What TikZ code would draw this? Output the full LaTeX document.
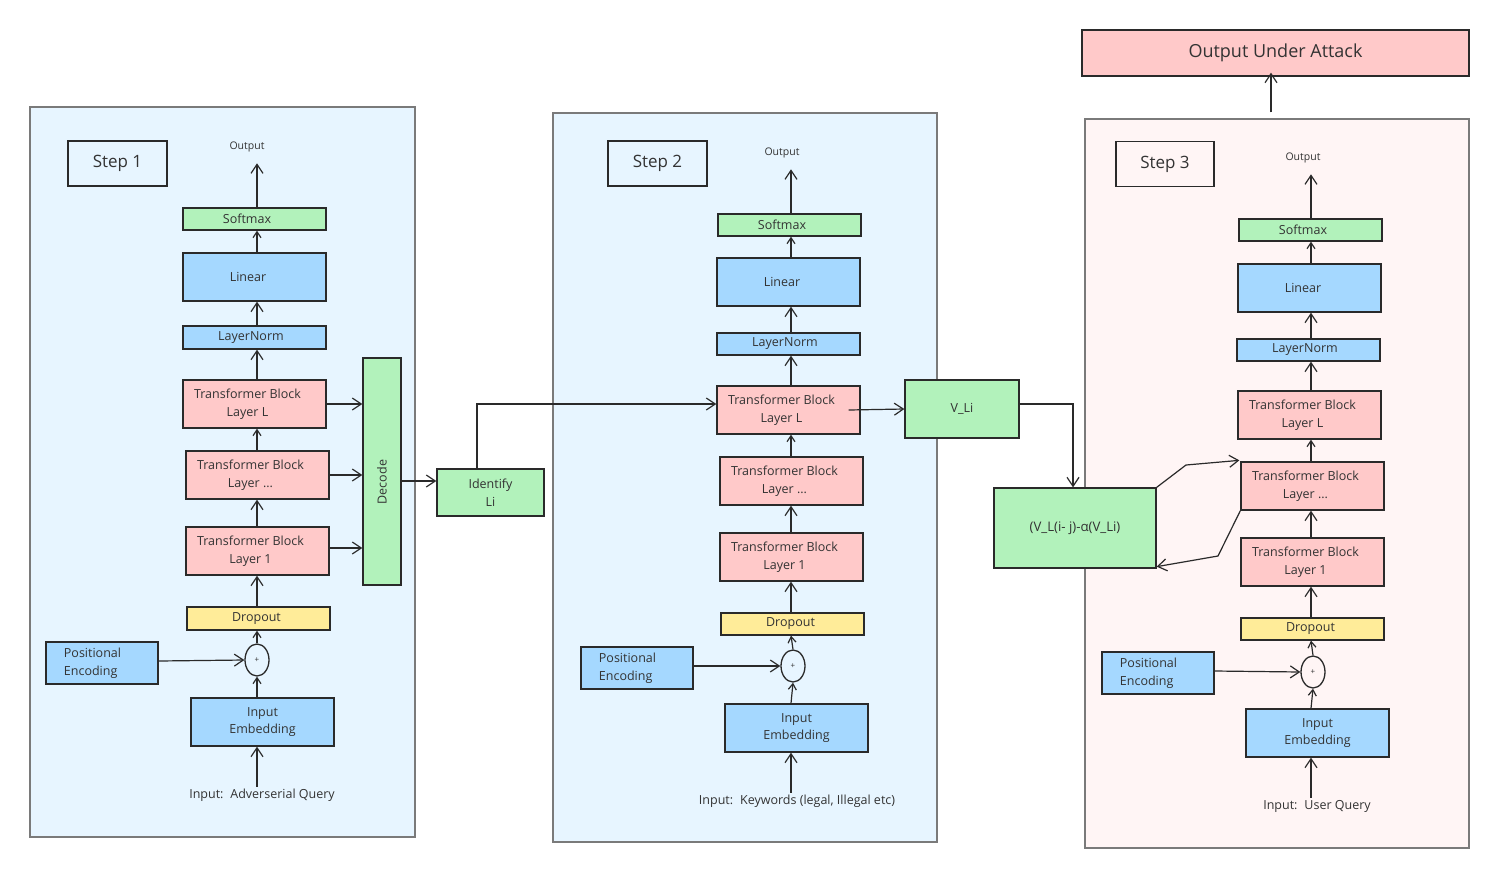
\documentclass[tikz,border=0pt]{standalone}
\usepackage{fontspec}
\setmainfont{Open Sans}
\usetikzlibrary{arrows.meta,shapes.geometric,calc}
\definecolor{strk}{HTML}{2A2A2A}
\definecolor{txt}{HTML}{333333}
\definecolor{bblue}{HTML}{A5D8FF}
\definecolor{bpink}{HTML}{FFC9C9}
\definecolor{bgreen}{HTML}{B2F2BB}
\definecolor{byellow}{HTML}{FFEC99}
\definecolor{pblue}{HTML}{E7F5FF}
\definecolor{ppink}{HTML}{FFF5F5}
\definecolor{pborder}{HTML}{7A7A7A}
\newcommand\tbtext[1]{Transformer Block\kern14pt\\#1\kern14pt}
\newcommand\petext{Positional\kern19pt\\Encoding}
\tikzset{
  boxbase/.style={draw=strk, line width=1.3pt, inner sep=0pt, align=center, text=txt,
    font=\fontsize{12.5pt}{17.5pt}\selectfont},
  bluebox/.style={boxbase, fill=bblue},
  pinkbox/.style={boxbase, fill=bpink},
  greenbox/.style={boxbase, fill=bgreen},
  yellowbox/.style={boxbase, fill=byellow},
  wide/.style={minimum width=143, minimum height=48},
  thin/.style={minimum width=143, minimum height=22},
  pebox/.style={bluebox, minimum width=112, minimum height=42, align=left},
  panelblue/.style={draw=pborder, line width=1.5pt, fill=pblue},
  panelpink/.style={draw=pborder, line width=1.5pt, fill=ppink},
  stepbox/.style={draw=strk, line width=1.3pt, fill=none, text=txt, minimum width=99, minimum height=45,
    font=\fontsize{17pt}{20pt}\selectfont},
  lbl/.style={text=txt, inner sep=2pt, font=\fontsize{12.5pt}{15pt}\selectfont},
  outlbl/.style={text=txt, inner sep=2pt, font=\fontsize{10.5pt}{12pt}\selectfont},
  plusnode/.style={draw=strk, line width=1.3pt, ellipse, minimum width=24, minimum height=32, inner sep=0pt,
    text=txt, font=\fontsize{8pt}{9pt}\selectfont},
  arr/.style={draw=strk, line width=1.2pt, -{Straight Barb[length=9pt,width=12pt,line width=1.2pt]}},
  sarr/.style={draw=strk, line width=1.2pt, -{Straight Barb[length=6pt,width=8pt,line width=1.2pt]}},
}
\begin{document}
\begin{tikzpicture}[x=1pt,y=-1pt]
\useasboundingbox (0,0) rectangle (1500,879);
\fill[white] (0,0) rectangle (1500,879);

% ---------------- panels
\node[panelblue, minimum width=385, minimum height=730] (p1) at (222.5,472) {};
\node[panelblue, minimum width=384, minimum height=729] (p2) at (745,477.5) {};
\node[panelpink, minimum width=384, minimum height=729] (p3) at (1277,483.5) {};

% ---------------- column coordinates
\coordinate (c1) at (257,0);
\coordinate (c2) at (791,0);
\coordinate (c3) at (1311,0);

% ---------------- panel 1
\node[stepbox] (st1) at (117.5,163.5) {Step 1};
\node[outlbl] (o1) at (247,147) {Output};
\node[greenbox, thin] (sm1) at (254.5,219) {Softmax\kern15pt};
\node[bluebox, wide] (lin1) at (254.5,277) {Linear\kern13pt};
\node[bluebox, minimum width=143, minimum height=23] (ln1) at (254.5,337.5) {LayerNorm\kern7pt};
\node[pinkbox, wide] (tbL1) at (254.5,404) {\tbtext{Layer L}};
\node[pinkbox, wide] (tbM1) at (257.5,475) {\tbtext{Layer ...}};
\node[pinkbox, wide] (tb11) at (257.5,551) {\tbtext{Layer 1}};
\node[yellowbox, minimum width=143, minimum height=23] (do1) at (258.5,618.5) {Dropout\kern4pt};
\node[plusnode] (pl1) at (257,660) {+};
\node[pebox] (pe1) at (102,663) {\petext};
\node[bluebox, wide] (emb1) at (262.5,722) {Input\\Embedding};
\node[lbl] (in1) at (262,795) {Input:\hspace{0.55em}Adverserial Query};
\node[greenbox, minimum width=38, minimum height=227] (dec) at (382,471.5) {};
\node[rotate=90, text=txt, font=\fontsize{12.5pt}{15pt}\selectfont] (decl) at (382,482) {Decode};
\node[greenbox, minimum width=107, minimum height=47] (idf) at (490.5,492.5) {Identify\\Li};

% ---------------- panel 2
\node[stepbox] (st2) at (657.5,163.5) {Step 2};
\node[outlbl] (o2) at (782,153) {Output};
\node[greenbox, thin] (sm2) at (789.5,225) {Softmax\kern15pt};
\node[bluebox, wide] (lin2) at (788.5,282) {Linear\kern13pt};
\node[bluebox, thin] (ln2) at (788.5,344) {LayerNorm\kern7pt};
\node[pinkbox, wide] (tbL2) at (788.5,410) {\tbtext{Layer L}};
\node[pinkbox, wide] (tbM2) at (791.5,481) {\tbtext{Layer ...}};
\node[pinkbox, wide] (tb12) at (791.5,557) {\tbtext{Layer 1}};
\node[yellowbox, thin] (do2) at (792.5,624) {Dropout\kern4pt};
\node[plusnode] (pl2) at (793,666) {+};
\node[pebox] (pe2) at (637,668) {\petext};
\node[bluebox, wide] (emb2) at (796.5,728) {Input\\Embedding};
\node[lbl] (in2) at (797,801) {Input:\hspace{0.55em}Keywords (legal, Illegal etc)};
\node[greenbox, minimum width=114, minimum height=58] (vli) at (962,409) {V\_Li};
\node[greenbox, minimum width=162, minimum height=80, font=\fontsize{13.2pt}{15pt}\selectfont] (form) at (1075,528) {(V\_L(i- j)-α(V\_Li)};

% ---------------- panel 3
\node[stepbox, minimum width=98] (st3) at (1165,164) {Step 3};
\node[outlbl] (o3) at (1303,158) {Output};
\node[greenbox, thin] (sm3) at (1310.5,230) {Softmax\kern15pt};
\node[bluebox, wide] (lin3) at (1309.5,288) {Linear\kern13pt};
\node[bluebox, thin] (ln3) at (1308.5,350) {LayerNorm\kern7pt};
\node[pinkbox, wide] (tbL3) at (1309.5,415) {\tbtext{Layer L}};
\node[pinkbox, wide] (tbM3) at (1312.5,486) {\tbtext{Layer ...}};
\node[pinkbox, wide] (tb13) at (1312.5,562) {\tbtext{Layer 1}};
\node[yellowbox, thin] (do3) at (1312.5,629) {Dropout\kern4pt};
\node[plusnode] (pl3) at (1313,672) {+};
\node[pebox] (pe3) at (1158,673) {\petext};
\node[bluebox, wide] (emb3) at (1317.5,733) {Input\\Embedding};
\node[lbl] (in3) at (1317,806) {Input:\hspace{0.55em}User Query};

\node[pinkbox, minimum width=387, minimum height=46, font=\fontsize{18pt}{21pt}\selectfont] (oua) at (1275.5,53) {Output Under Attack};

% ---------------- vertical stacks
\foreach \k/\c in {1/c1,2/c2,3/c3}{
  \draw[arr] (in\k.north -| \c) -- (emb\k.south -| \c);
  \draw[sarr] (emb\k.north -| \c) -- (pl\k.south);
  \draw[sarr] (pl\k.north) -- (do\k.south -| \c);
  \draw[arr] (do\k.north -| \c) -- (tb1\k.south -| \c);
  \draw[arr] (tb1\k.north -| \c) -- (tbM\k.south -| \c);
  \draw[sarr] (tbM\k.north -| \c) -- (tbL\k.south -| \c);
  \draw[arr] (tbL\k.north -| \c) -- (ln\k.south -| \c);
  \draw[arr] (ln\k.north -| \c) -- (lin\k.south -| \c);
  \draw[sarr] (lin\k.north -| \c) -- (sm\k.south -| \c);
  \draw[arr] (sm\k.north -| \c) -- ([yshift=-9pt]o\k.south -| \c);
  \draw[arr] ([yshift=2pt]pe\k.east) -- (pl\k.west);
}

% ---------------- step 1 -> decode -> identify -> step 2
\draw[arr] (tbL1.east) -- (tbL1.east -| dec.west);
\draw[arr] (tbM1.east) -- (tbM1.east -| dec.west);
\draw[arr] ([yshift=3pt]tb11.east) -- ([yshift=3pt]tb11.east -| dec.west);
\coordinate (dy) at (0,481);
\draw[arr] (dec.east |- dy) -- (idf.west |- dy);
\draw[arr] ([xshift=-13.5pt]idf.north) |- ([yshift=6pt]tbL2.west);

% ---------------- step 2 -> V_Li -> formula -> step 3
\draw[arr] ([xshift=-12pt]tbL2.east) -- (vli.west);
\draw[arr] ([yshift=5pt]vli.east) -| ([xshift=-2pt]form.north);
\coordinate (k1) at (1186,465);
\coordinate (k2) at (1218,556);
\draw[arr] (form.north east) -- (k1) -- ([xshift=-1pt,yshift=1pt]tbM3.north west);
\draw[arr] (tbM3.south west) -- (k2) -- ([yshift=2pt]form.south east);

% ---------------- step 3 -> output under attack
\coordinate (ax) at (1271,0);
\draw[arr] ([yshift=6pt]p3.north -| ax) -- ([yshift=4pt]oua.south -| ax);
\end{tikzpicture}
\end{document}
